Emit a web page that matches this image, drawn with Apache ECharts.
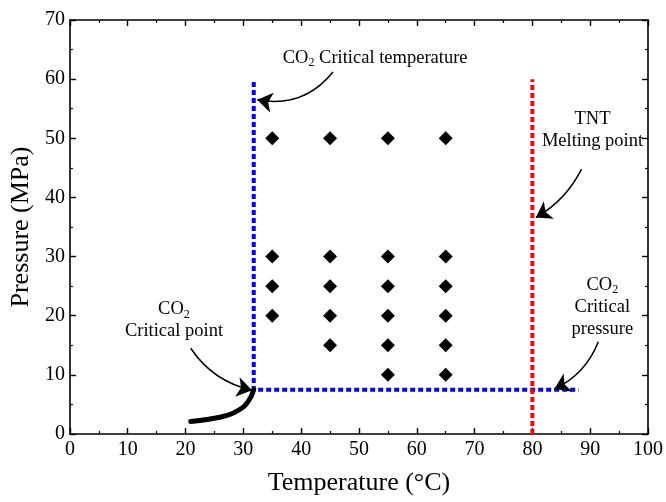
<!DOCTYPE html>
<html>
<head>
<meta charset="utf-8">
<script src="https://cdn.jsdelivr.net/npm/echarts@6/dist/echarts.min.js"></script>
<style>
  html, body { margin: 0; padding: 0; background: #fff; }
  #chart { width: 666px; height: 502px; }
</style>
</head>
<body>
<div id="chart"></div>
<script>
// experiment points (temperature, pressure)
const pointsT = [35, 35, 35, 35, 45, 45, 45, 45, 45, 55, 55, 55, 55, 55, 55, 65, 65, 65, 65, 65, 65];
const pointsP = [50, 30, 25, 20, 50, 30, 25, 20, 15, 50, 30, 25, 20, 15, 10, 50, 30, 25, 20, 15, 10];

// CO2 critical lines
const critTempLine = [[31.8, 59.5], [31.8, 7.5]];
const critPressLine = [[31.8, 7.5], [88, 7.5]];
// TNT melting point
const tntLine = [[80, 0], [80, 60]];
// CO2 vapour curve
const vapourCurve = [[20.9, 2.1], [24, 2.5], [27, 3.1], [29.3, 4.1], [30.9, 5.6], [31.8, 7.5]];

// annotation arrows: from -> to, curveness
const arrows = [
    {from: [45.5, 61.2], to: [32.4, 56.5], curve: 0.3},
    {from: [88.5, 44.8], to: [80.6, 36.6], curve: 0.15},
    {from: [91.4, 15.6], to: [83.8, 7.6], curve: 0.2},
    {from: [20.9, 14.5], to: [31.5, 7.4], curve: -0.2},
];

// annotation texts
const notes = [
    {pos: [52.8, 63.6], text: '{t|CO}{s|2}{t| Critical temperature}'},
    {pos: [90.4, 51.4], text: '{t|TNT}\n{t|Melting point}'},
    {pos: [92.1, 21.5], text: '{t|CO}{s|2}\n{t|Critical}\n{t|pressure}'},
    {pos: [18, 19.2], text: '{t|CO}{s|2}\n{t|Critical point}'},
];

const font = 'Liberation Serif';
const chart = echarts.init(document.getElementById('chart'));

const axisCommon = {
    min: 0,
    interval: 10,
    axisLine: {show: true, onZero: false, lineStyle: {color: '#000', width: 1.6}},
    axisTick: {show: true, inside: true, length: 6, lineStyle: {color: '#000', width: 1.4}},
    minorTick: {show: true, splitNumber: 2, length: 3, lineStyle: {color: '#000', width: 1.2}},
    splitLine: {show: false},
    axisLabel: {color: '#000', fontFamily: font, fontSize: 20},
};

const option = {
    animation: false,
    backgroundColor: '#fff',
    grid: {left: 69, top: 20, right: 17, bottom: 68},
    xAxis: [
        Object.assign({}, axisCommon, {
            type: 'value', max: 100, position: 'bottom',
            name: 'Temperature (°C)', nameLocation: 'middle', nameGap: 36,
            nameTextStyle: {color: '#000', fontFamily: font, fontSize: 26},
            axisLabel: Object.assign({}, axisCommon.axisLabel, {margin: 6}),
        }),
        Object.assign({}, axisCommon, {
            type: 'value', max: 100, position: 'top',
            axisLabel: {show: false},
        }),
    ],
    yAxis: [
        Object.assign({}, axisCommon, {
            type: 'value', max: 70, position: 'left',
            name: 'Pressure (MPa)', nameLocation: 'middle', nameGap: 35,
            nameTextStyle: {color: '#000', fontFamily: font, fontSize: 26},
            axisLabel: Object.assign({}, axisCommon.axisLabel, {margin: 5}),
        }),
        Object.assign({}, axisCommon, {
            type: 'value', max: 70, position: 'right',
            axisLabel: {show: false},
        }),
    ],
    series: [
        {
            type: 'line',
            data: critTempLine.concat(critPressLine.slice(1)),
            symbol: 'none',
            lineStyle: {color: '#0000ff', width: 4, type: [5, 3]},
            z: 2,
        },
        {
            type: 'line',
            data: tntLine,
            symbol: 'none',
            lineStyle: {color: '#ff0000', width: 4, type: [5, 3]},
            z: 3,
        },
        {
            type: 'line',
            data: vapourCurve,
            smooth: true,
            symbol: 'none',
            lineStyle: {color: '#000', width: 5, cap: 'round'},
            z: 4,
        },
        {
            type: 'scatter',
            data: pointsT.map((t, i) => [t, pointsP[i]]),
            symbol: 'diamond',
            symbolSize: 14,
            itemStyle: {color: '#000', opacity: 1},
            z: 5,
        },
        {
            type: 'lines',
            coordinateSystem: 'cartesian2d',
            symbol: ['none', 'arrow'],
            symbolSize: 15,
            data: arrows.map(a => ({coords: [a.from, a.to], lineStyle: {curveness: a.curve}})),
            lineStyle: {color: '#000', width: 1.5, opacity: 1},
            z: 6,
        },
        {
            type: 'scatter',
            symbolSize: 0,
            itemStyle: {opacity: 1},
            data: notes.map(n => ({value: n.pos, text: n.text})),
            label: {
                show: true,
                position: 'inside',
                formatter: p => p.data.text,
                rich: {
                    t: {fontFamily: font, fontSize: 18.5, color: '#000', lineHeight: 22},
                    s: {fontFamily: font, fontSize: 12, color: '#000', lineHeight: 22, padding: [10, 0, 0, 0]},
                },
            },
            z: 7,
        },
    ],
};

chart.setOption(option);
</script>
</body>
</html>
